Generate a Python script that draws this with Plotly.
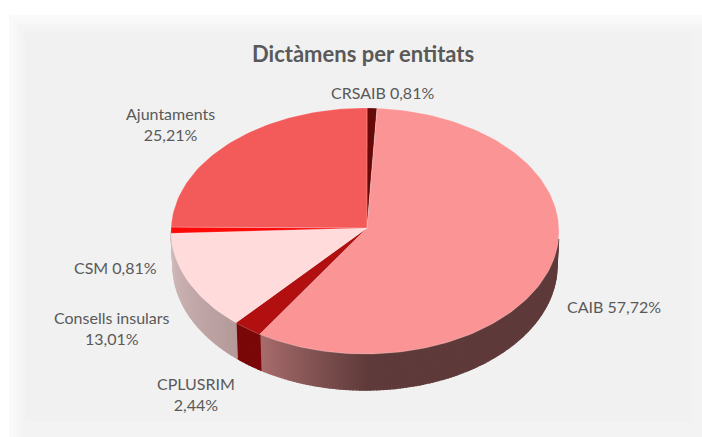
import math
import plotly.graph_objects as go

entities = ["CRSAIB", "CAIB", "CPLUSRIM", "Consells insulars", "CSM", "Ajuntaments"]
shares = [0.81, 57.72, 2.44, 13.01, 0.81, 25.21]
top_colors = ["#680808", "#FB9595", "#B21010", "#FFDBDB", "#FF0808", "#F35B5B"]
# side gradient: colour at the slice's start angle, colour at its end angle
side_colors = [("#4a0606", "#4a0606"), ("#5F3A3A", "#A86C6C"), ("#7A0808", "#7A0808"),
               ("#B59A9A", "#D2BABA"), ("#D2BABA", "#D2BABA"), ("#D2BABA", "#D2BABA")]
label_texts = ["CRSAIB 0,81%", "CAIB 57,72%", "CPLUSRIM<br>2,44%",
               "Consells insulars<br>13,01%", "CSM 0,81%", "Ajuntaments<br>25,21%"]
label_x = [382, 614, 196, 112, 115, 170]
label_y = [92, 306, 394, 328, 267, 124]
title_text = "Dictàmens per entitats"

W, H = 702, 437
CX, CY, RX, RY = 365, 231, 194, 123       # top ellipse
BX, BY, BRX, BRY = 365, 265.5, 192, 124.5 # bottom ellipse
AX, AY = 367, 228                         # apex of the top face
START = 0.6


def warp(a):
    # the reference's perspective pushes the lower-left rim slightly round
    return a + (2.0 * a / 270 if a <= 270 else 2.0 * (360 - a) / 90)


def hex2rgb(c):
    return [int(c[i:i + 2], 16) for i in (1, 3, 5)]


def mix(a, b, t):
    ra, rb = hex2rgb(a), hex2rgb(b)
    return "rgb(%d,%d,%d)" % tuple(round(x + (y - x) * t) for x, y in zip(ra, rb))


def top_pt(a):
    r = math.radians(warp(a))
    return CX + RX * math.sin(r), CY - RY * math.cos(r)


def bot_pt(a):
    r = math.radians(warp(a))
    return BX + BRX * math.sin(r), BY - BRY * math.cos(r)


fig = go.Figure()


def poly(xs, ys, color, line=None, lw=0.8):
    fig.add_trace(go.Scatter(x=xs, y=ys, mode="lines", fill="toself", fillcolor=color,
                             line=dict(color=line or color, width=lw),
                             hoverinfo="skip", showlegend=False))


# slice angles
angles = []
a = START
for s in shares:
    angles.append((a, a + s * 3.6))
    a += s * 3.6

# side wall
for (a0, a1), (c0, c1) in zip(angles, side_colors):
    lo, hi = max(a0, 93), min(a1, 268)
    if hi <= lo:
        continue
    n = max(1, int((hi - lo) / 1))
    for i in range(n):
        u0, u1 = lo + (hi - lo) * i / n, lo + (hi - lo) * (i + 1) / n
        if c0 == "#5F3A3A":
            # flat dark until the lower front, then lighter towards the left edge
            t = max(0, ((u0 + u1) / 2 - 178) / (a1 - 178))
        else:
            t = ((u0 + u1) / 2 - a0) / (a1 - a0)
        col = mix(c0, c1, t)
        p = [top_pt(u0), top_pt(u1), bot_pt(u1), bot_pt(u0), top_pt(u0)]
        poly([q[0] for q in p], [q[1] for q in p], col, lw=1.4)

# top faces
for (a0, a1), col in zip(angles, top_colors):
    n = max(2, int((a1 - a0) / 1.5))
    pts = [(AX, AY)] + [top_pt(a0 + (a1 - a0) * i / n) for i in range(n + 1)] + [(AX, AY)]
    poly([q[0] for q in pts], [q[1] for q in pts], col, line="rgba(255,255,255,0.35)", lw=0.6)

# soft panel edges
steps = [(9, 15, 702, 437, "#FAFAFA"), (13, 20, 702, 437, "#F8F8F8"), (17, 24, 702, 437, "#F5F5F5"),
         (21, 29, 702, 437, "#F3F3F3"), (25, 33, 692, 422, "#F1F1F1")]
shapes = [dict(type="rect", xref="x", yref="y", x0=x0, y0=y0, x1=x1, y1=y1, fillcolor=c,
               line=dict(width=0), layer="below") for x0, y0, x1, y1, c in steps]

FONT = "Lato"
anns = [dict(x=x, y=y, text=t, showarrow=False, xref="x", yref="y", xanchor="center", yanchor="middle",
             font=dict(family=FONT, size=16, color="#595959"), align="center")
        for x, y, t in zip(label_x, label_y, label_texts)]
anns.append(dict(x=363, y=53, text="<b>%s</b>" % title_text, showarrow=False, xref="x", yref="y",
                 xanchor="center", yanchor="middle", font=dict(family=FONT, size=22, color="#595959")))

fig.update_layout(width=W, height=H, autosize=False, margin=dict(l=0, r=0, t=0, b=0),
                  paper_bgcolor="white", plot_bgcolor="white", shapes=shapes, annotations=anns,
                  xaxis=dict(range=[0, W], visible=False, fixedrange=True),
                  yaxis=dict(range=[H, 0], visible=False, fixedrange=True))
fig.write_html("out.html", config={"displayModeBar": False},
               post_script="document.body.style.margin='0';")
